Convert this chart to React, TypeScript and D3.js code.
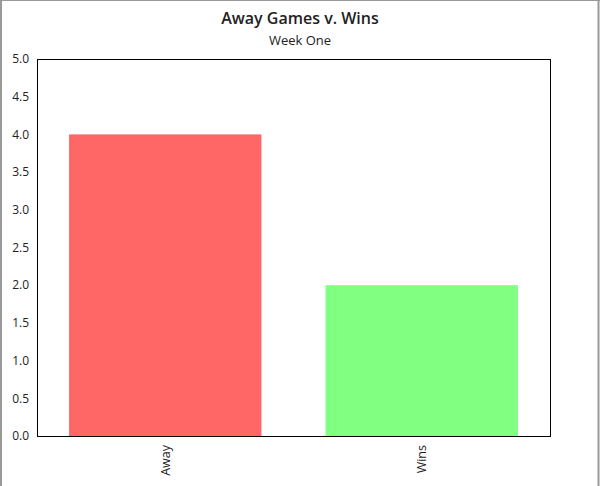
import React from "react";
import * as d3 from "d3";

const categories = ["Away", "Wins"];
const values = [4, 2];
const colors = ["#ff6666", "#80ff80"];
const yTicks = [0, 0.5, 1, 1.5, 2, 2.5, 3, 3.5, 4, 4.5, 5];
const title = "Away Games v. Wins";
const subtitle = "Week One";

export default function App() {
  const W = 600, H = 486;
  const left = 37, right = 550, top = 59, bottom = 436;
  const x = d3.scaleBand<string>().domain(categories).range([left, right]).paddingInner(0.25).paddingOuter(0.125);
  const y = d3.scaleLinear().domain([0, 5]).range([bottom, top]);
  const font = "'Open Sans', 'Noto Sans', sans-serif";
  return (
    <svg width={W} height={H} style={{ position: "absolute", left: 0, top: 0, background: "#fff" }} fontFamily={font}>
      <line x1={1} y1={0} x2={1} y2={H} stroke="#999" strokeWidth={2} />
      <line x1={0} y1={0.5} x2={W} y2={0.5} stroke="#999" strokeWidth={1} />
      <line x1={598.5} y1={0} x2={598.5} y2={H} stroke="#999" strokeWidth={2} />
      <text x={300} y={24} textAnchor="middle" fontSize={16} fontWeight={600} fill="#222">{title}</text>
      <text x={300} y={45} textAnchor="middle" fontSize={13} fill="#222">{subtitle}</text>
      {categories.map((c, i) => (
        <rect key={c} x={x(c)!} y={y(values[i])} width={x.bandwidth()} height={y(0) - y(values[i])} fill={colors[i]} />
      ))}
      <rect x={left + 0.5} y={top + 0.5} width={right - left} height={bottom - top} fill="none" stroke="#000" strokeWidth={1} />
      {yTicks.map((t) => (
        <text key={t} x={29} y={y(t)} dy="0.35em" textAnchor="end" fontSize={12} fill="#222">{t.toFixed(1)}</text>
      ))}
      {categories.map((c) => {
        const cx = x(c)! + x.bandwidth() / 2;
        return (
          <text key={c} transform={`translate(${cx},${445}) rotate(-90)`} dy="0.35em" textAnchor="end" fontSize={12.5} fill="#222">{c}</text>
        );
      })}
    </svg>
  );
}
